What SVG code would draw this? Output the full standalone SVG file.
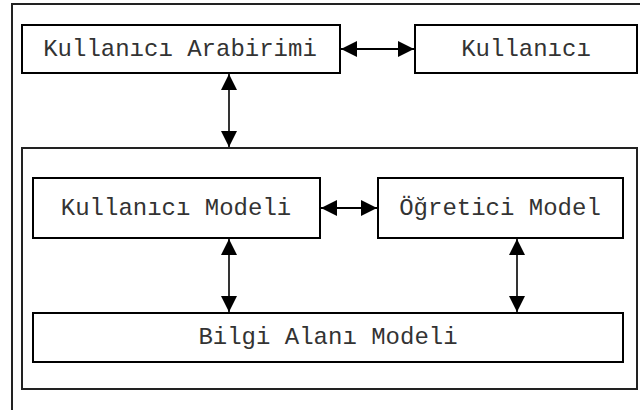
<svg xmlns="http://www.w3.org/2000/svg" width="640" height="410" viewBox="0 0 640 410">
<defs>
<style>
.box{fill:#fff;stroke:#000;stroke-width:2}
.frame{fill:none;stroke:#222;stroke-width:2}
.lbl{font-family:"Liberation Mono","Courier New",monospace;font-size:24px;fill:#333;text-anchor:middle}
.con{stroke:#000;stroke-width:2;fill:none;marker-start:url(#ah);marker-end:url(#ah)}
.v{stroke-width:1.6}
</style>
<marker id="ah" viewBox="0 0 10 10" refX="10" refY="5" markerWidth="16" markerHeight="16" markerUnits="userSpaceOnUse" orient="auto-start-reverse">
<path d="M0,0 L10,5 L0,10 Z" fill="#000"/>
</marker>
</defs>
<rect width="640" height="410" fill="#fff"/>
<g id="outer"><rect class="frame" x="12" y="4" width="640" height="420"/></g>
<g id="inner"><rect class="frame" x="22" y="148" width="615" height="241"/></g>
<g id="kullanici-arabirimi"><rect class="box" x="22" y="25" width="318" height="48"/><text class="lbl" x="180" y="56">Kullanıcı Arabirimi</text></g>
<g id="kullanici"><rect class="box" x="415" y="25" width="222" height="48"/><text class="lbl" x="526" y="56">Kullanıcı</text></g>
<g id="kullanici-modeli"><rect class="box" x="33" y="178" width="287" height="60"/><text class="lbl" x="176" y="215">Kullanıcı Modeli</text></g>
<g id="ogretici-model"><rect class="box" x="378" y="178" width="245" height="60"/><text class="lbl" x="500" y="215">Öğretici Model</text></g>
<g id="bilgi-alani-modeli"><rect class="box" x="33" y="313" width="590" height="49"/><text class="lbl" x="328" y="344">Bilgi Alanı Modeli</text></g>
<g id="connectors">
<line class="con" x1="341" y1="49" x2="414" y2="49"/>
<line class="con v" x1="229" y1="74" x2="229" y2="147"/>
<line class="con" x1="321" y1="208" x2="377" y2="208"/>
<line class="con v" x1="229" y1="239" x2="229" y2="312"/>
<line class="con v" x1="517" y1="239" x2="517" y2="312"/>
</g>
</svg>
